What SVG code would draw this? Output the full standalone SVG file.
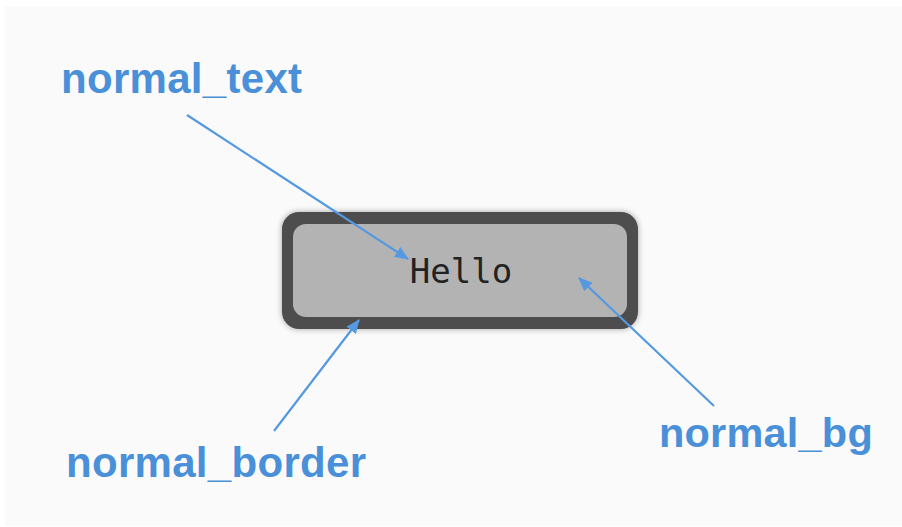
<svg xmlns="http://www.w3.org/2000/svg" width="902" height="527" viewBox="0 0 902 527">
  <style>
    .label { font-family: "Liberation Sans", Arial, sans-serif; font-weight: bold; font-size: 42px; letter-spacing: 0.3px; fill: #4a90d9; }
    .mono { font-family: "DejaVu Sans Mono", "Liberation Mono", monospace; font-size: 34px; fill: #222222; }
    .conn { stroke: #5599e0; stroke-width: 2.2; fill: none; marker-end: url(#head); }
  </style>
  <defs>
    <marker id="head" viewBox="0 0 14 12" refX="13" refY="6" markerWidth="14" markerHeight="12" markerUnits="userSpaceOnUse" orient="auto">
      <path d="M0,0 L14,6 L0,12 Z" fill="#5599e0"/>
    </marker>
    <filter id="shadow" x="-20%" y="-30%" width="140%" height="160%">
      <feGaussianBlur in="SourceAlpha" stdDeviation="3"/>
      <feComponentTransfer><feFuncA type="linear" slope="0.35"/></feComponentTransfer>
      <feMerge><feMergeNode/><feMergeNode in="SourceGraphic"/></feMerge>
    </filter>
  </defs>

  <rect x="0" y="0" width="902" height="527" fill="#ffffff"/>
  <rect x="5" y="6" width="897" height="520" fill="#fafafa"/>

  <!-- the button widget -->
  <g id="button">
    <rect x="282" y="212" width="356" height="117" rx="17" fill="#4d4d4d" filter="url(#shadow)"/>
    <rect x="293" y="224" width="334" height="93" rx="13" fill="#b3b3b3"/>
    <text class="mono" x="461" y="283" text-anchor="middle">Hello</text>
  </g>

  <g id="label-normal-text">
    <text class="label" x="61" y="93">normal_text</text>
  </g>
  <g id="label-normal-border">
    <text class="label" x="66" y="477">normal_border</text>
  </g>
  <g id="label-normal-bg">
    <text class="label" x="659" y="447" style="font-size:41.5px;letter-spacing:0.2px">normal_bg</text>
  </g>

  <g id="connectors">
    <line class="conn" x1="187" y1="115" x2="408" y2="259"/>
    <line class="conn" x1="274" y1="431" x2="359" y2="320"/>
    <line class="conn" x1="714" y1="406" x2="579" y2="278"/>
  </g>
</svg>
